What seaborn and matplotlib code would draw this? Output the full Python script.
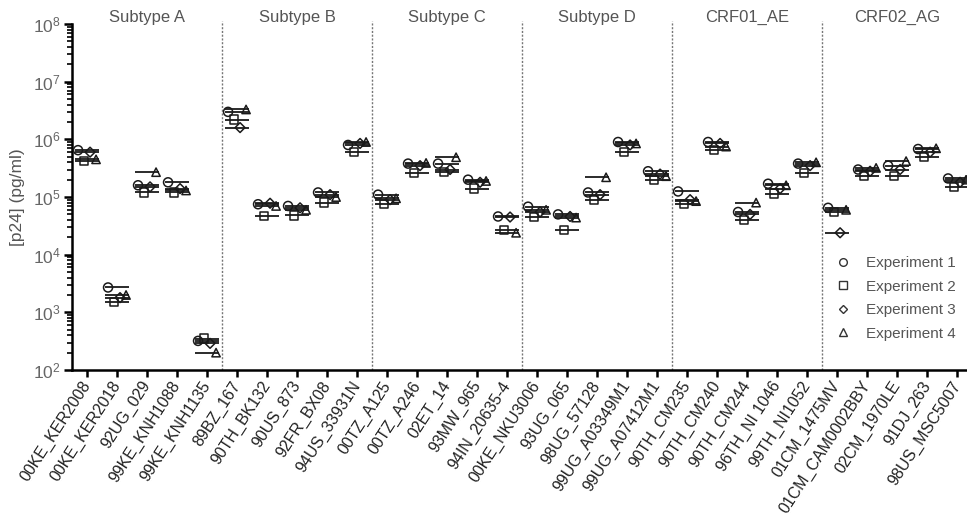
import numpy as np
import pandas as pd
import matplotlib
matplotlib.use("Agg")
import matplotlib.pyplot as plt
import matplotlib.transforms as mtransforms
from matplotlib.lines import Line2D
from matplotlib.ticker import LogLocator, NullFormatter
import seaborn as sns

# ---------------- data ----------------
isolates = [
    "00KE_KER2008", "00KE_KER2018", "92UG_029", "99KE_KNH1088", "99KE_KNH1135",
    "89BZ_167", "90TH_BK132", "90US_873", "92FR_BX08", "94US_33931N",
    "00TZ_A125", "00TZ_A246", "02ET_14", "93MW_965", "94IN_20635-4",
    "00KE_NKU3006", "93UG_065", "98UG_57128", "99UG_A03349M1", "99UG_A07412M1",
    "90TH_CM235", "90TH_CM240", "90TH_CM244", "96TH_NI 1046", "99TH_NI1052",
    "01CM_1475MV", "01CM_CAM0002BBY", "02CM_1970LE", "91DJ_263", "98US_MSC5007",
]
groups = ["Subtype A", "Subtype B", "Subtype C", "Subtype D", "CRF01_AE", "CRF02_AG"]
group_sizes = [5, 5, 5, 5, 5, 5]
experiments = ["Experiment 1", "Experiment 2", "Experiment 3", "Experiment 4"]

exp1 = [6.5e5, 2.7e3, 1.6e5, 1.8e5, 3.2e2,
        3.0e6, 7.5e4, 7.0e4, 1.2e5, 8.0e5,
        1.1e5, 3.8e5, 3.8e5, 2.0e5, 4.6e4,
        6.8e4, 5.0e4, 1.2e5, 9.0e5, 2.8e5,
        1.25e5, 9.0e5, 5.5e4, 1.7e5, 3.8e5,
        6.5e4, 3.0e5, 3.5e5, 6.8e5, 2.1e5]
exp2 = [4.2e5, 1.5e3, 1.2e5, 1.2e5, 3.5e2,
        2.2e6, 4.7e4, 4.8e4, 8.0e4, 6.0e5,
        7.5e4, 2.6e5, 2.7e5, 1.4e5, 2.7e4,
        4.5e4, 2.7e4, 9.0e4, 6.0e5, 2.0e5,
        7.5e4, 6.5e5, 4.0e4, 1.15e5, 2.6e5,
        5.5e4, 2.3e5, 2.3e5, 5.0e5, 1.5e5]
exp3 = [6.0e5, 1.8e3, 1.5e5, 1.4e5, 2.9e2,
        1.6e6, 7.8e4, 6.5e4, 1.1e5, 8.5e5,
        9.0e4, 3.5e5, 3.0e5, 1.8e5, 4.5e4,
        5.5e4, 4.6e4, 1.1e5, 8.0e5, 2.5e5,
        9.0e4, 8.5e5, 5.0e4, 1.4e5, 3.5e5,
        2.4e4, 2.8e5, 3.0e5, 6.0e5, 1.8e5]
exp4 = [4.5e5, 2.0e3, 2.7e5, 1.3e5, 2.0e2,
        3.3e6, 7.0e4, 6.0e4, 1.0e5, 9.0e5,
        9.5e4, 3.9e5, 4.9e5, 1.9e5, 2.4e4,
        6.0e4, 4.4e4, 2.2e5, 8.5e5, 2.3e5,
        8.5e4, 7.5e5, 8.0e4, 1.6e5, 4.0e5,
        6.0e4, 3.2e5, 4.2e5, 7.0e5, 2.0e5]
exp_values = [exp1, exp2, exp3, exp4]
markers = ["o", "s", "D", "^"]
marker_sizes = [6.5, 6.0, 5.0, 6.0]

frames = []
for name, vals in zip(experiments, exp_values):
    frames.append(pd.DataFrame({"isolate": isolates, "experiment": name, "p24": vals}))
df = pd.concat(frames, ignore_index=True)

# ---------------- style ----------------
sns.set_theme(style="ticks")
plt.rcParams["font.family"] = ["Liberation Sans", "DejaVu Sans"]
plt.rcParams["mathtext.fontset"] = "custom"
plt.rcParams["mathtext.rm"] = "Liberation Sans"
plt.rcParams["mathtext.it"] = "Liberation Sans"

fig = plt.figure(figsize=(9.67, 5.25), dpi=100)
ax = fig.add_axes([0.0745, 0.2952, 0.9255, 0.659])

edge = "#1a1a1a"
black_pal = {e: edge for e in experiments}

for name, mk, ms in zip(experiments, markers, marker_sizes):
    sub = df[df["experiment"] == name]
    n_before = len(ax.collections)
    sns.stripplot(data=sub, x="isolate", y="p24", order=isolates,
                  hue="experiment", hue_order=experiments, palette=black_pal,
                  dodge=True, jitter=0, marker=mk, size=ms, linewidth=1.0,
                  log_scale=True, legend=False, ax=ax, zorder=3)
    for coll in ax.collections[n_before:]:
        coll.set_facecolor("none")
        coll.set_edgecolor(edge)
        coll.set_linewidth(1.1)
    # experiment mean line
    n_before = len(ax.collections)
    sns.stripplot(data=sub, x="isolate", y="p24", order=isolates,
                  jitter=0, marker="_", size=17, linewidth=1.3,
                  color=edge, log_scale=True, legend=False, ax=ax, zorder=3)
    for coll in ax.collections[n_before:]:
        coll.set_edgecolor(edge)
        coll.set_linewidth(1.3)

# ---------------- axes ----------------
ax.set_ylim(1e2, 1e8)
ax.set_xlim(-0.5, len(isolates) - 0.67)
ax.yaxis.set_major_locator(LogLocator(base=10, numticks=10))
ax.yaxis.set_minor_locator(LogLocator(base=10, subs=np.arange(2, 10), numticks=100))
ax.yaxis.set_minor_formatter(NullFormatter())

for side in ["top", "right"]:
    ax.spines[side].set_visible(False)
for side in ["left", "bottom"]:
    ax.spines[side].set_linewidth(1.8)
    ax.spines[side].set_color("black")

ax.tick_params(axis="y", which="major", length=6, width=1.8, color="black",
               labelsize=12.5, labelcolor="#666666", pad=2)
ax.tick_params(axis="y", which="minor", length=3.5, width=1.2, color="black")
ax.tick_params(axis="x", which="major", length=5, width=1.8, color="black",
               labelsize=11.5, labelcolor="#222222", pad=4)

plt.setp(ax.get_xticklabels(), rotation=57, ha="right", va="center",
         rotation_mode="anchor")
ax.set_xlabel("")
ax.set_ylabel("[p24] (pg/ml)", fontsize=12.5, color="#555555", labelpad=6)

# group separators and titles
trans = mtransforms.blended_transform_factory(ax.transData, ax.transAxes)
bounds = np.cumsum(group_sizes)
starts = np.concatenate([[0], bounds[:-1]])
for b in bounds[:-1]:
    ax.axvline(b - 0.5, ymin=0, ymax=1.01, color="#777777", linestyle=(0, (1.5, 1.2)),
               linewidth=1.0, clip_on=False, zorder=1)
for g, s, e in zip(groups, starts, bounds):
    ax.text((s + e - 1) / 2, 1.02, g, transform=trans, ha="center", va="center",
            fontsize=12, color="#555555")

handles = [Line2D([], [], linestyle="none", marker=m, markersize=ms * 0.85,
                  markerfacecolor="none", markeredgecolor="#333333", markeredgewidth=1.0)
           for m, ms in zip(markers, marker_sizes)]
fig.legend(handles, experiments, loc="upper left", bbox_to_anchor=(0.864, 0.512),
           frameon=False, fontsize=11, handletextpad=1.0, labelspacing=0.62,
           labelcolor="#555555", handlelength=1.0, borderpad=0, borderaxespad=0)

fig.savefig("out.png", dpi=100)
